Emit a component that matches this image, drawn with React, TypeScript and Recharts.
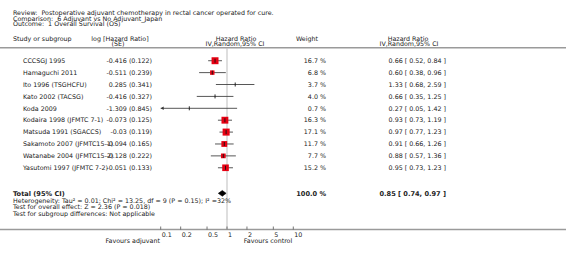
import React from 'react'
import { ScatterChart, Scatter, XAxis, YAxis, ReferenceLine, ErrorBar } from 'recharts'

// study rows, top to bottom
const studyNames = [
  'CCCSGJ 1995',
  'Hamaguchi 2011',
  'Ito 1996 (TSGHCFU)',
  'Kato 2002 (TACSG)',
  'Koda 2009',
  'Kodaira 1998 (JFMTC 7-1)',
  'Matsuda 1991 (SGACCS)',
  'Sakamoto 2007 (JFMTC15-1)',
  'Watanabe 2004 (JFMTC15-2)',
  'Yasutomi 1997 (JFMTC 7-2)',
]
const logHr = [-0.416, -0.511, 0.285, -0.416, -1.309, -0.073, -0.03, -0.094, -0.128, -0.051]
const logSe = [0.122, 0.239, 0.341, 0.327, 0.845, 0.125, 0.119, 0.165, 0.222, 0.133]
const weights = [16.7, 6.8, 3.7, 4.0, 0.7, 16.3, 17.1, 11.7, 7.7, 15.2]
const hr = [0.66, 0.6, 1.33, 0.66, 0.27, 0.93, 0.97, 0.91, 0.88, 0.95]
const ciLow = [0.52, 0.38, 0.68, 0.35, 0.05, 0.73, 0.77, 0.66, 0.57, 0.73]
const ciHigh = [0.84, 0.96, 2.59, 1.25, 1.42, 1.19, 1.23, 1.26, 1.36, 1.23]

const totalHr = 0.85
const totalLow = 0.74
const totalHigh = 0.97
const totalWeight = 100.0

const xTicks = [0.1, 0.2, 0.5, 1, 2, 5, 10]
const X_MIN = 0.1
const X_MAX = 10
const TOTAL_ROW = 12.15

const FONT = 'DejaVu Sans, Verdana, sans-serif'
const INK = '#222'
const FS = 6.35

const rows = studyNames.map((name, i) => {
  const lo = Math.max(ciLow[i], X_MIN)
  const hi = Math.min(ciHigh[i], X_MAX)
  return {
    name,
    x: hr[i],
    y: i + 1,
    w: weights[i],
    lhr: logHr[i],
    se: logSe[i],
    lo: ciLow[i],
    hi: ciHigh[i],
    err: [hr[i] - lo, hi - hr[i]],
  }
})

// rows whose CI runs past the axis get an arrow at the edge
const arrows = rows.filter((r) => r.lo < X_MIN).map((r) => ({ x: X_MIN, y: r.y }))

const DH = 0.24
const diamond = [
  { x: totalLow, y: TOTAL_ROW },
  { x: totalHr, y: TOTAL_ROW - DH },
  { x: totalHigh, y: TOTAL_ROW },
  { x: totalHr, y: TOTAL_ROW + DH },
  { x: totalLow, y: TOTAL_ROW },
]

const txt = (extra: any = {}) => ({ fontFamily: FONT, fontSize: FS, fill: INK, ...extra })

function StudyMark(props: any) {
  const { cx, cy, payload } = props
  const side = payload.w >= 5 ? 1.7 * Math.sqrt(payload.w) : 0
  return (
    <g>
      {side > 0 && (
        <rect x={cx - side / 2} y={cy - side / 2} width={side} height={side} fill='#e60012' />
      )}
      <line x1={cx} x2={cx} y1={cy - 2} y2={cy + 2} stroke='#111' strokeWidth={0.9} />
      <text x={23} y={cy} dy='0.35em' {...txt()}>{payload.name}</text>
      <text x={152} y={cy} dy='0.35em' textAnchor='end' {...txt()}>
        {`${payload.lhr} (${payload.se})`}
      </text>
      <text x={326} y={cy} dy='0.35em' textAnchor='end' {...txt()}>
        {`${payload.w.toFixed(1)} %`}
      </text>
      <text x={446} y={cy} dy='0.35em' textAnchor='end' {...txt()}>
        {`${payload.x.toFixed(2)} [ ${payload.lo.toFixed(2)}, ${payload.hi.toFixed(2)} ]`}
      </text>
    </g>
  )
}

function ArrowMark(props: any) {
  const { cx, cy } = props
  return <polygon points={`${cx},${cy} ${cx + 3},${cy - 1.7} ${cx + 3},${cy + 1.7}`} fill='#333' />
}

function TotalLabel(props: any) {
  const { cy } = props
  const bold = txt({ fontWeight: 'bold', fontSize: 6.6 })
  return (
    <g>
      <text x={13} y={cy} dy='0.35em' {...bold}>Total (95% CI)</text>
      <text x={326} y={cy} dy='0.35em' textAnchor='end' {...bold}>{`${totalWeight.toFixed(1)} %`}</text>
      <text x={446} y={cy} dy='0.35em' textAnchor='end' {...bold}>
        {`${totalHr.toFixed(2)} [ ${totalLow.toFixed(2)}, ${totalHigh.toFixed(2)} ]`}
      </text>
      <text x={13} y={cy + 7} dy='0.35em' {...txt()}>
        Heterogeneity: Tau² = 0.01; Chi² = 13.25, df = 9 (P = 0.15); I² =32%
      </text>
      <text x={13} y={cy + 13.8} dy='0.35em' {...txt()}>Test for overall effect: Z = 2.36 (P = 0.018)</text>
      <text x={13} y={cy + 20.3} dy='0.35em' {...txt()}>Test for subgroup differences: Not applicable</text>
    </g>
  )
}

function AxisTick(props: any) {
  const { x, y, payload } = props
  return (
    <g>
      <line x1={x} x2={x} y1={y - 3} y2={y} stroke='#555' strokeWidth={0.8} />
      <text x={x + 1} y={y + 5} dy='0.35em' {...txt()}>{payload.value}</text>
    </g>
  )
}

export default function App() {
  return (
    <div style={{ position: 'absolute', left: 0, top: 0, width: 566, height: 253, background: '#fff' }}>
      <svg width={566} height={253} style={{ position: 'absolute', left: 0, top: 0 }}>
        <text x={13} y={12.5} dy='0.35em' style={{ whiteSpace: 'pre' }} {...txt()}>
          {'Review:  Postoperative adjuvant chemotherapy in rectal cancer operated for cure.'}
        </text>
        <text x={13} y={18.3} dy='0.35em' style={{ whiteSpace: 'pre' }} {...txt()}>
          {'Comparison:  6 Adjuvant vs No Adjuvant_Japan'}
        </text>
        <text x={13} y={24} dy='0.35em' style={{ whiteSpace: 'pre' }} {...txt()}>
          {'Outcome:  1 Overall Survival (OS)'}
        </text>
        <text x={13} y={38.3} dy='0.35em' {...txt()}>Study or subgroup</text>
        <text x={120} y={38.3} dy='0.35em' textAnchor='middle' {...txt()}>log [Hazard Ratio]</text>
        <text x={118} y={44} dy='0.35em' textAnchor='middle' {...txt()}>(SE)</text>
        <text x={236} y={38.3} dy='0.35em' textAnchor='middle' {...txt()}>Hazard Ratio</text>
        <text x={235} y={44} dy='0.35em' textAnchor='middle' {...txt()}>IV,Random,95% CI</text>
        <text x={307} y={38.3} dy='0.35em' textAnchor='middle' {...txt()}>Weight</text>
        <text x={408} y={38.3} dy='0.35em' textAnchor='middle' {...txt()}>Hazard Ratio</text>
        <text x={409} y={44} dy='0.35em' textAnchor='middle' {...txt()}>IV,Random,95% CI</text>
        <line x1={0} x2={566} y1={47.7} y2={47.7} stroke='#9a9a9a' strokeWidth={1.4} />
        <line x1={0} x2={566} y1={229.5} y2={229.5} stroke='#9a9a9a' strokeWidth={1.4} />
        <text x={132.7} y={240.7} dy='0.35em' textAnchor='middle' {...txt()}>Favours adjuvant</text>
        <text x={268} y={240.7} dy='0.35em' textAnchor='middle' {...txt()}>Favours control</text>
      </svg>
      <div style={{ position: 'absolute', left: 0, top: 0 }}>
        <ScatterChart width={566} height={253} margin={{ top: 48, right: 272.7, bottom: 11.5, left: 160.7 }}>
          <XAxis
            dataKey='x'
            type='number'
            scale='log'
            domain={[X_MIN, X_MAX]}
            ticks={xTicks}
            interval={0}
            axisLine={false}
            tickLine={false}
            tickSize={0}
            tickMargin={0}
            height={12}
            tick={(p: any) => <AxisTick {...p} />}
          />
          <YAxis dataKey='y' type='number' domain={[-0.07, 15.19]} reversed hide />
          <ReferenceLine x={1} stroke='#bdbdbd' strokeWidth={1} />
          <Scatter data={rows} shape={(p: any) => <StudyMark {...p} />} isAnimationActive={false}>
            <ErrorBar dataKey='err' direction='x' width={0} stroke='#444' strokeWidth={0.9} isAnimationActive={false} />
          </Scatter>
          <Scatter data={arrows} shape={(p: any) => <ArrowMark {...p} />} isAnimationActive={false} />
          <Scatter
            data={diamond}
            line={{ stroke: '#000', fill: '#000', strokeWidth: 0.6 }}
            lineType='joint'
            shape={() => <g />}
            isAnimationActive={false}
          />
          <Scatter
            data={[{ x: totalHr, y: TOTAL_ROW }]}
            shape={(p: any) => <TotalLabel {...p} />}
            isAnimationActive={false}
          />
        </ScatterChart>
      </div>
    </div>
  )
}
